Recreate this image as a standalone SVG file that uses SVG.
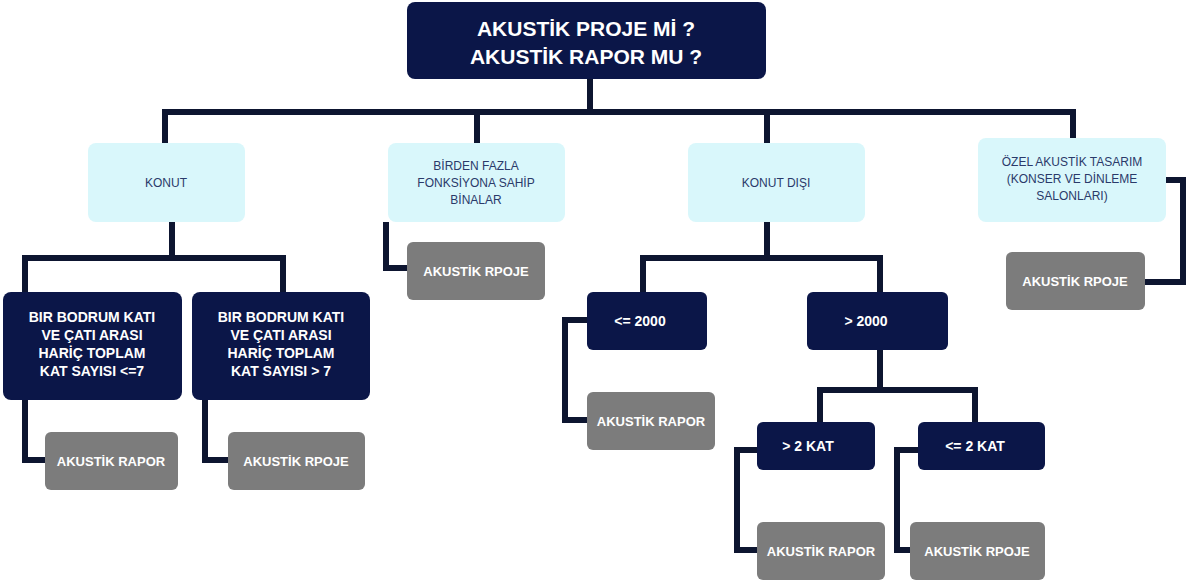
<svg xmlns="http://www.w3.org/2000/svg" width="1191" height="585" viewBox="0 0 1191 585">
<style>
.d{fill:#0b1648}.l{fill:#d9f7fb}.g{fill:#7c7c7c}
text{font-family:"Liberation Sans",Arial,sans-serif;text-anchor:middle}
.tw{fill:#fff;font-weight:bold;font-size:14px}
.tr{fill:#fff;font-weight:bold;font-size:21px}
.tl{fill:#2a3a6a;font-size:12px}
.tg{fill:#fff;font-weight:bold;font-size:13px}
#c path{fill:none;stroke:#0d1530;stroke-width:6}
</style>
<rect width="1191" height="585" fill="#fff"/>
<g id="c">
<path d="M590 79V112M165 143V112H1073V143M477 112V143M767 112V143"/>
<path d="M172 222V258M25 292V258H283V292"/>
<path d="M25 400V460H45M205 400V460H228"/>
<path d="M386 222V268H407"/>
<path d="M767 222V258M643 292V258H880V292"/>
<path d="M587 320H565V420H587"/>
<path d="M880 350V390M820 422V390H975V422"/>
<path d="M757 450H737V550H757M918 450H897V550H910"/>
<path d="M1166 180H1183V282H1145"/>
</g>
<g id="root"><rect class="d" x="407" y="2" width="359" height="77" rx="8"/><text class="tr" x="586" y="36">AKUSTİK PROJE Mİ ?</text><text class="tr" x="586" y="64">AKUSTİK RAPOR MU ?</text></g>
<g id="konut"><rect class="l" x="88" y="143" width="157" height="79" rx="8"/><text class="tl" x="166" y="187">KONUT</text></g>
<g id="birden"><rect class="l" x="388" y="143" width="177" height="79" rx="8"/><text class="tl" x="476" y="170">BİRDEN FAZLA</text><text class="tl" x="476" y="187">FONKSİYONA SAHİP</text><text class="tl" x="476" y="204">BİNALAR</text></g>
<g id="konutdisi"><rect class="l" x="688" y="143" width="177" height="79" rx="8"/><text class="tl" x="776" y="187">KONUT DIŞI</text></g>
<g id="ozel"><rect class="l" x="978" y="138" width="188" height="84" rx="8"/><text class="tl" x="1072" y="166">ÖZEL AKUSTİK TASARIM</text><text class="tl" x="1072" y="183">(KONSER VE DİNLEME</text><text class="tl" x="1072" y="200">SALONLARI)</text></g>
<g id="k1"><rect class="d" x="3" y="292" width="179" height="108" rx="8"/><text class="tw" x="92" y="322">BIR BODRUM KATI</text><text class="tw" x="92" y="340">VE ÇATI ARASI</text><text class="tw" x="92" y="358">HARİÇ TOPLAM</text><text class="tw" x="92" y="376">KAT SAYISI &lt;=7</text></g>
<g id="k2"><rect class="d" x="192" y="292" width="178" height="108" rx="8"/><text class="tw" x="281" y="322">BIR BODRUM KATI</text><text class="tw" x="281" y="340">VE ÇATI ARASI</text><text class="tw" x="281" y="358">HARİÇ TOPLAM</text><text class="tw" x="281" y="376">KAT SAYISI &gt; 7</text></g>
<g id="r1"><rect class="g" x="45" y="432" width="133" height="58" rx="6"/><text class="tg" x="111" y="466">AKUSTİK RAPOR</text></g>
<g id="p1"><rect class="g" x="228" y="432" width="137" height="58" rx="6"/><text class="tg" x="296" y="466">AKUSTİK RPOJE</text></g>
<g id="p2"><rect class="g" x="407" y="242" width="138" height="58" rx="6"/><text class="tg" x="476" y="276">AKUSTİK RPOJE</text></g>
<g id="le2000"><rect class="d" x="587" y="292" width="120" height="58" rx="6"/><text class="tw" x="640" y="326">&lt;= 2000</text></g>
<g id="gt2000"><rect class="d" x="807" y="292" width="141" height="58" rx="6"/><text class="tw" x="866" y="326">&gt; 2000</text></g>
<g id="r2"><rect class="g" x="587" y="392" width="128" height="58" rx="6"/><text class="tg" x="651" y="426">AKUSTİK RAPOR</text></g>
<g id="gt2"><rect class="d" x="757" y="422" width="118" height="48" rx="6"/><text class="tw" x="808" y="451">&gt; 2 KAT</text></g>
<g id="le2"><rect class="d" x="918" y="422" width="127" height="48" rx="6"/><text class="tw" x="975" y="451">&lt;= 2 KAT</text></g>
<g id="r3"><rect class="g" x="757" y="522" width="128" height="58" rx="6"/><text class="tg" x="821" y="556">AKUSTİK RAPOR</text></g>
<g id="p3"><rect class="g" x="910" y="522" width="135" height="58" rx="6"/><text class="tg" x="977" y="556">AKUSTİK RPOJE</text></g>
<g id="p4"><rect class="g" x="1006" y="252" width="139" height="58" rx="6"/><text class="tg" x="1075" y="286">AKUSTİK RPOJE</text></g>
</svg>
